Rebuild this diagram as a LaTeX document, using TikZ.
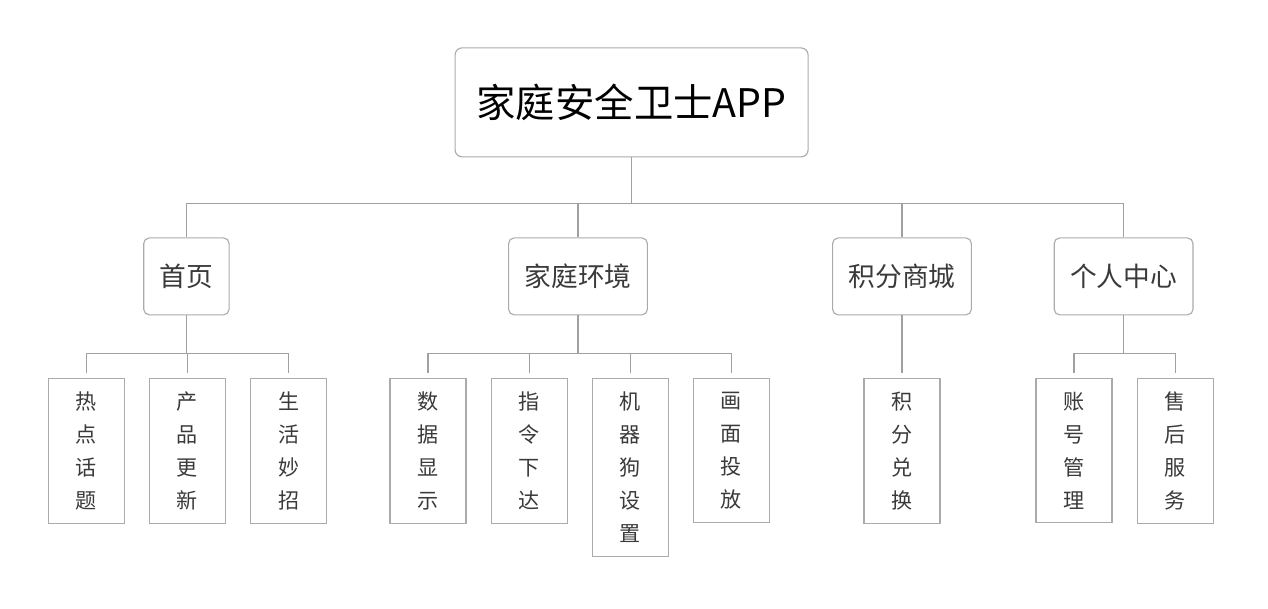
\documentclass[tikz,border=0pt]{standalone}
\usepackage{fontspec}
\setmainfont{Noto Sans CJK SC}
\usepackage{xcolor}
\usepackage{tikz}
\usetikzlibrary{positioning}
\definecolor{boxline}{HTML}{ABABAB}
\definecolor{linkline}{HTML}{A0A0A0}
\definecolor{txtgray}{HTML}{3A3A3A}
\tikzset{
  %% Top box
  rootbox/.style={
    rectangle, rounded corners=5pt,
    draw=boxline, line width=0.8pt, fill=white,
    minimum width=8.825cm, minimum height=2.725cm,
    font=\fontsize{28}{34}\selectfont, text=black},
  %% Module boxes
  catbox/.style={
    rectangle, rounded corners=4pt,
    draw=boxline, line width=0.8pt, fill=white,
    minimum height=1.925cm, inner xsep=0.4cm,
    font=\fontsize{19}{23}\selectfont, text=txtgray},
  %% Function boxes (vertical text)
  leafbox/.style={
    rectangle, draw=boxline, line width=0.8pt, fill=white,
    minimum width=1.9cm, inner ysep=0.34cm,
    align=center, anchor=north,
    font=\fontsize{15}{23.4}\selectfont, text=txtgray},
  %% Connectors
  link/.style={draw=linkline, line width=0.9pt},
  leaflink/.style={link, shorten >=0.13cm},
}
\begin{document}
\begin{tikzpicture}[node distance=0.6cm]
  \useasboundingbox (0,0) rectangle (31.7,-15.225);

  \node[rootbox] (app) at (15.79,-2.56) {家庭安全卫士APP};

  \node[catbox] (home) at (4.66,-6.91) {首页};
  \node[catbox] (env)  at (14.45,-6.91) {家庭环境};
  \node[catbox] (mall) at (22.55,-6.91) {积分商城};
  \node[catbox] (me)   at (28.09,-6.91) {个人中心};

  %% 首页
  \node[leafbox] (h1) at (2.16,-9.45) {热\\点\\话\\题};
  \node[leafbox, right=of h1.north east, anchor=north west] (h2) {产\\品\\更\\新};
  \node[leafbox, right=of h2.north east, anchor=north west] (h3) {生\\活\\妙\\招};

  %% 家庭环境
  \node[leafbox] (e1) at (10.7,-9.45) {数\\据\\显\\示};
  \node[leafbox, right=of e1.north east, anchor=north west] (e2) {指\\令\\下\\达};
  \node[leafbox, right=of e2.north east, anchor=north west] (e3) {机\\器\\狗\\设\\置};
  \node[leafbox, right=of e3.north east, anchor=north west] (e4) {画\\面\\投\\放};

  %% 积分商城
  \node[leafbox] (m1) at (22.55,-9.45) {积\\分\\兑\\换};

  %% 个人中心
  \node[leafbox] (p1) at (26.85,-9.45) {账\\号\\管\\理};
  \node[leafbox, right=of p1.north east, anchor=north west] (p2) {售\\后\\服\\务};

  \foreach \c in {home,env,mall,me}
    \draw[link] (app.south) -- ++(0,-1.15) -| (\c.north);

  \foreach \c in {h1,h2,h3}
    \draw[leaflink] (home.south) -- ++(0,-0.95) -| (\c.north);
  \foreach \c in {e1,e2,e3,e4}
    \draw[leaflink] (env.south) -- ++(0,-0.95) -| (\c.north);
  \draw[leaflink] (mall.south) -- (m1.north);
  \foreach \c in {p1,p2}
    \draw[leaflink] (me.south) -- ++(0,-0.95) -| (\c.north);
\end{tikzpicture}
\end{document}
